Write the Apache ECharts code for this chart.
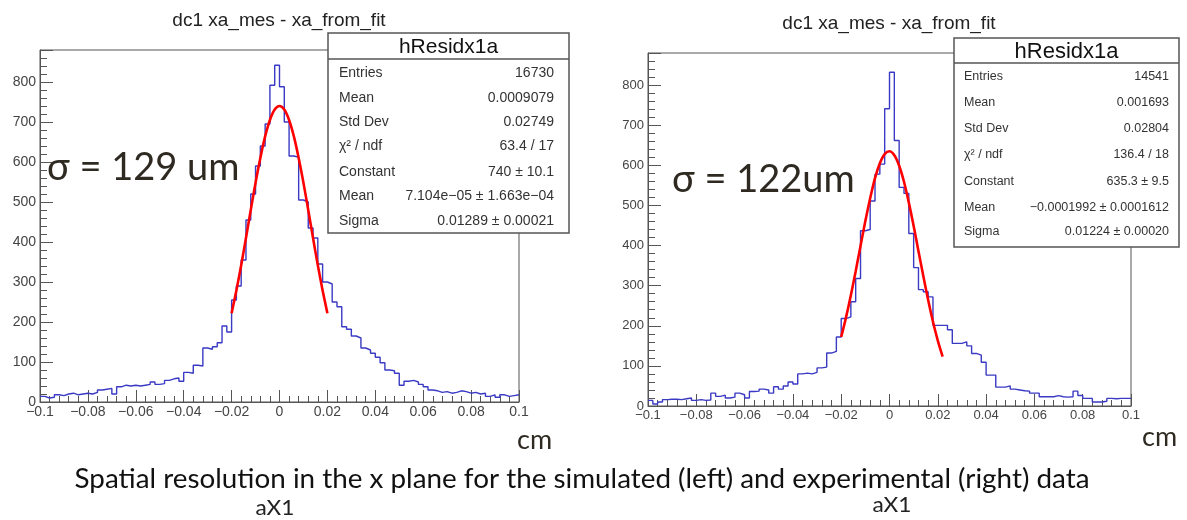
<!DOCTYPE html>
<html>
<head>
<meta charset="utf-8">
<script src="https://cdn.jsdelivr.net/npm/echarts@6/dist/echarts.min.js"></script>
<style>
html,body{margin:0;padding:0;background:#fff;}
#chart{width:1187px;height:520px;}
</style>
</head>
<body>
<div id="chart"></div>
<script>
// ---------------- data ----------------
const binLo = -0.1;
const binWidth = 0.002;

const leftCounts = [
  14,10,12,18,16,20,22,18,20,22,
  20,24,30,32,34,20,38,42,40,42,
  40,42,44,50,44,46,54,58,60,52,
  74,72,92,90,135,132,138,148,190,175,
  255,290,355,455,520,590,640,695,792,842,
  788,700,615,612,505,500,435,410,345,300,
  295,250,238,188,182,165,160,135,130,122,
  112,98,80,78,72,42,52,54,50,44,
  38,30,28,24,26,22,24,28,26,22,
  24,20,22,14,18,12,18,14,16,18
];

const rightCounts = [
  14,5,10,16,17,17,16,18,20,14,
  16,14,15,32,24,27,20,22,32,28,
  20,36,37,42,40,32,48,42,50,60,
  55,80,82,80,84,95,97,132,136,172,
  218,222,260,318,437,440,511,578,603,741,
  832,662,545,530,430,345,290,285,272,201,
  201,201,190,156,156,160,150,131,127,109,
  77,77,47,47,50,42,40,38,37,32,
  32,23,23,23,26,23,22,23,37,26,
  19,19,10,10,12,19,18,19,19,19
];

const leftFitX = [-0.02,-0.018,-0.016,-0.014,-0.012,-0.01,-0.008,-0.006,-0.004,-0.002,0,0.002,0.004,0.006,0.008,0.01,0.012,0.014,0.016,0.018,0.02];
const leftFitY = [222,279,342,410,480,548,610,664,705,731,740,731,705,664,610,548,480,410,342,279,222];

const rightFitX = [-0.02,-0.018,-0.016,-0.014,-0.012,-0.01,-0.008,-0.006,-0.004,-0.002,0,0.002,0.004,0.006,0.008,0.01,0.012,0.014,0.016,0.018,0.02,0.022];
const rightFitY = [172,221,276,336,399,461,518,568,605,628,635,625,599,559,507,449,386,324,264,210,163,123];

const xTickLabels = ['\u22120.1','\u22120.08','\u22120.06','\u22120.04','\u22120.02','0','0.02','0.04','0.06','0.08','0.1'];
const yTickLabels = ['0','100','200','300','400','500','600','700','800'];

const histTitle = 'dc1 xa_mes - xa_from_fit';
const statName = 'hResidx1a';
const statLabels = ['Entries','Mean','Std Dev','\u03c7\u00b2 / ndf','Constant','Mean','Sigma'];
const leftStatValues = ['16730','0.0009079','0.02749','63.4 / 17','740 \u00b1 10.1','7.104e\u221205 \u00b1 1.663e\u221204','0.01289 \u00b1 0.00021'];
const rightStatValues = ['14541','0.001693','0.02804','136.4 / 18','635.3 \u00b1 9.5','\u22120.0001992 \u00b1 0.0001612','0.01224 \u00b1 0.00020'];
const leftSigmaNote = '\u03c3 = 129 um';
const rightSigmaNote = '\u03c3 = 122um';
const unitLabel = 'cm';
const caption = 'Spatial resolution in the x plane for the simulated (left) and experimental (right) data';
const subLabel = 'aX1';

// ---------------- helpers ----------------
function stepData(counts){
  const d = counts.map((c,i)=>[binLo + i*binWidth, c]);
  d.push([binLo + counts.length*binWidth, counts[counts.length-1]]);
  return d;
}
function pairs(xs, ys){ return xs.map((x,i)=>[x, ys[i]]); }

const ROOT_FONT = '"Liberation Sans", Arial, sans-serif';
const AX = '#555';

function makeX(grid, fs){
  return {
    type:'value', gridIndex:grid, min:-0.1, max:0.1, interval:0.02,
    axisLine:{show:true, onZero:false, lineStyle:{color:AX, width:1}},
    axisTick:{show:true, inside:true, length:12, lineStyle:{color:AX}},
    minorTick:{show:true, splitNumber:5, length:6, lineStyle:{color:AX}},
    splitLine:{show:false}, minorSplitLine:{show:false},
    axisLabel:{margin:3, color:'#444', fontSize:fs, fontFamily:ROOT_FONT,
      formatter:(v)=>{const k=Math.round((v-binLo)/0.02); return xTickLabels[k] ?? '';}}
  };
}
function makeY(grid, fs){
  return {
    type:'value', gridIndex:grid, min:0, max:880, interval:100,
    axisLine:{show:true, onZero:false, lineStyle:{color:AX, width:1}},
    axisTick:{show:true, inside:true, length:13, lineStyle:{color:AX}},
    minorTick:{show:true, splitNumber:5, length:7, lineStyle:{color:AX}},
    splitLine:{show:false}, minorSplitLine:{show:false},
    axisLabel:{margin:4, color:'#444', fontSize:fs, fontFamily:ROOT_FONT,
      formatter:(v)=>{ if (v % 100 !== 0) return ''; return yTickLabels[v/100] ?? ''; }}
  };
}

function statBox(x, y, w, h, headH, headFs, rowYs, fs, padL, padR, values){
  const els = [];
  els.push({type:'rect', z:100, shape:{x:x, y:y, width:w, height:h}, style:{fill:'#fff', stroke:'#555', lineWidth:1.5}});
  els.push({type:'line', z:101, shape:{x1:x, y1:y+headH, x2:x+w, y2:y+headH}, style:{stroke:'#555', lineWidth:1.5}});
  els.push({type:'text', z:101, x:x+w/2, y:y+headH/2+1, style:{text:statName, font:headFs+'px '+ROOT_FONT, fill:'#111', align:'center', verticalAlign:'middle'}});
  statLabels.forEach((lab,i)=>{
    els.push({type:'text', z:101, x:x+padL, y:rowYs[i], style:{text:lab, font:fs+'px '+ROOT_FONT, fill:'#333', align:'left', verticalAlign:'middle'}});
    els.push({type:'text', z:101, x:x+w-padR, y:rowYs[i], style:{text:values[i], font:fs+'px '+ROOT_FONT, fill:'#333', align:'right', verticalAlign:'middle'}});
  });
  return els;
}

const CAL = 'Lato, "Open Sans", sans-serif';

const graphics = [].concat(
  [
    {type:'text', z:101, x:279, y:21, style:{text:histTitle, font:'19px '+ROOT_FONT, fill:'#222', align:'center', verticalAlign:'middle'}},
    {type:'text', z:101, x:889, y:24, style:{text:histTitle, font:'19px '+ROOT_FONT, fill:'#222', align:'center', verticalAlign:'middle'}},
  ],
  statBox(328, 33, 241, 200, 26, 21, [73,98,122,146,172,196,221], 14, 11, 15, leftStatValues),
  statBox(954, 38, 225, 209, 25, 22, [77,103,129,155,182,208,232], 12.5, 10, 10, rightStatValues),
  [
    {type:'text', z:102, x:47, y:168, style:{text:leftSigmaNote, font:'38px '+CAL, fill:'#2e2a22', align:'left', verticalAlign:'middle'}},
    {type:'text', z:102, x:672, y:180, style:{text:rightSigmaNote, font:'38px '+CAL, fill:'#2e2a22', align:'left', verticalAlign:'middle'}},
    {type:'text', z:102, x:517, y:440, style:{text:unitLabel, font:'27px '+CAL, fill:'#2e2a22', align:'left', verticalAlign:'middle'}},
    {type:'text', z:102, x:1142, y:437, style:{text:unitLabel, font:'27px '+CAL, fill:'#2e2a22', align:'left', verticalAlign:'middle'}},
    {type:'text', z:102, x:582, y:480, scaleX:1.07, style:{text:caption, font:'26px '+CAL, fill:'#111', align:'center', verticalAlign:'middle'}},
    {type:'text', z:102, x:275, y:508, scaleX:1.08, style:{text:subLabel, font:'21px '+CAL, fill:'#222', align:'center', verticalAlign:'middle'}},
    {type:'text', z:102, x:892, y:505, scaleX:1.08, style:{text:subLabel, font:'21px '+CAL, fill:'#222', align:'center', verticalAlign:'middle'}}
  ]
);

const option = {
  animation:false,
  backgroundColor:'#fff',
  grid:[
    {left:40, top:50, width:479, height:352, show:true, borderColor:'#555', borderWidth:1, backgroundColor:'transparent'},
    {left:648, top:53, width:483, height:353, show:true, borderColor:'#555', borderWidth:1, backgroundColor:'transparent'}
  ],
  xAxis:[makeX(0,14), makeX(1,13)],
  yAxis:[makeY(0,14), makeY(1,13)],
  series:[
    {type:'line', xAxisIndex:0, yAxisIndex:0, step:'end', symbol:'none', data:stepData(leftCounts), lineStyle:{color:'#3a3ac4', width:1.4}, z:2},
    {type:'line', xAxisIndex:0, yAxisIndex:0, smooth:0.3, symbol:'none', data:pairs(leftFitX,leftFitY), lineStyle:{color:'#ff0000', width:2.6}, z:3},
    {type:'line', xAxisIndex:1, yAxisIndex:1, step:'end', symbol:'none', data:stepData(rightCounts), lineStyle:{color:'#3a3ac4', width:1.4}, z:2},
    {type:'line', xAxisIndex:1, yAxisIndex:1, smooth:0.3, symbol:'none', data:pairs(rightFitX,rightFitY), lineStyle:{color:'#ff0000', width:2.6}, z:3}
  ],
  graphic:graphics
};

const chart = echarts.init(document.getElementById('chart'), null, {renderer:'canvas'});
chart.setOption(option);
</script>
</body>
</html>
